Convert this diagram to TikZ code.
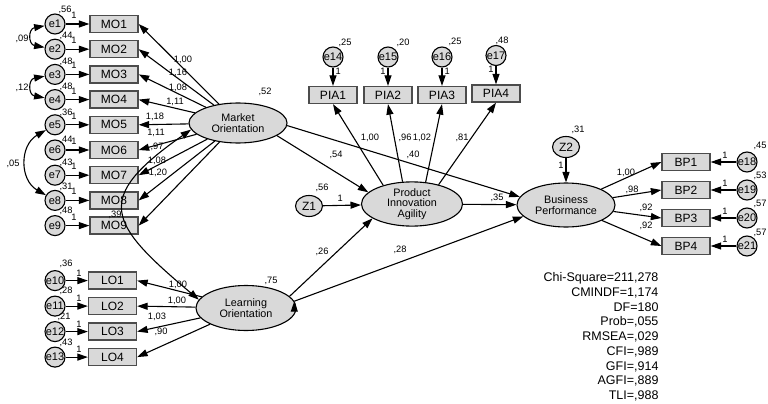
\documentclass[tikz,border=0pt]{standalone}
\usepackage{fontspec}
\setmainfont{Liberation Sans}
\usetikzlibrary{positioning, arrows.meta, shapes.geometric}
\definecolor{boxfill}{gray}{0.85}
\definecolor{boxline}{gray}{0.3}
\tikzset{->,  % every connector is directed
>={Triangle[length=10.5pt,width=7pt]}, % solid heads as in AMOS
node distance=25.2pt, % spacing of the indicator boxes
obs/.style={rectangle, draw=boxline, line width=1.3pt, fill=boxfill, minimum width=48pt, minimum height=17pt, inner sep=0pt, font=\fontsize{12}{12}\selectfont},
lat/.style={ellipse, draw, fill=boxfill, inner sep=0pt, align=center, font=\fontsize{10.8}{10.6}\selectfont},
err/.style={circle, draw, fill=boxfill, inner sep=0pt, minimum size=20pt, font=\fontsize{11}{11}\selectfont},
dist/.style={ellipse, draw, fill=boxfill, inner sep=0pt, minimum width=27pt, minimum height=21pt, font=\fontsize{12}{12}\selectfont},
est/.style={inner sep=0pt, font=\fontsize{9.3}{9.3}\selectfont},
}

\begin{document}
\begin{tikzpicture}[x=1pt, y=-1pt, line width=1.1pt]
  \useasboundingbox (0,0) rectangle (768,404);

  % indicators
  \node[obs] (MO1) at (114,24) {MO1};
  \node[obs, below of=MO1] (MO2) {MO2};
  \node[obs, below of=MO2] (MO3) {MO3};
  \node[obs, below of=MO3] (MO4) {MO4};
  \node[obs, below of=MO4] (MO5) {MO5};
  \node[obs, below of=MO5] (MO6) {MO6};
  \node[obs, below of=MO6] (MO7) {MO7};
  \node[obs, below of=MO7] (MO8) {MO8};
  \node[obs, below of=MO8] (MO9) {MO9};
  \node[obs, below of=MO9, node distance=55pt, xshift=-1.5pt] (LO1) {LO1};
  \node[obs, below of=LO1, node distance=25.5pt] (LO2) {LO2};
  \node[obs, below of=LO2, node distance=25.5pt] (LO3) {LO3};
  \node[obs, below of=LO3, node distance=25.5pt] (LO4) {LO4};
  \node[obs] (PIA1) at (333,95) {PIA1};
  \node[obs, right of=PIA1, node distance=55pt] (PIA2) {PIA2};
  \node[obs, right of=PIA2, node distance=54pt] (PIA3) {PIA3};
  \node[obs, right of=PIA3, node distance=54pt, yshift=1.5pt] (PIA4) {PIA4};
  \node[obs] (BP1) at (686,162) {BP1};
  \node[obs, below of=BP1, node distance=28pt] (BP2) {BP2};
  \node[obs, below of=BP2, node distance=28pt] (BP3) {BP3};
  \node[obs, below of=BP3, node distance=28pt] (BP4) {BP4};

  % error terms
  \node[err, left of=MO1, node distance=59pt] (e1) {e1};
  \node[err, left of=MO2, node distance=59pt] (e2) {e2};
  \node[err, left of=MO3, node distance=59pt] (e3) {e3};
  \node[err, left of=MO4, node distance=59pt] (e4) {e4};
  \node[err, left of=MO5, node distance=59pt] (e5) {e5};
  \node[err, left of=MO6, node distance=59pt] (e6) {e6};
  \node[err, left of=MO7, node distance=59pt] (e7) {e7};
  \node[err, left of=MO8, node distance=59pt] (e8) {e8};
  \node[err, left of=MO9, node distance=59pt] (e9) {e9};
  \node[err, left of=LO1, node distance=57.5pt] (e10) {e10};
  \node[err, left of=LO2, node distance=57.5pt] (e11) {e11};
  \node[err, left of=LO3, node distance=57.5pt] (e12) {e12};
  \node[err, left of=LO4, node distance=57.5pt] (e13) {e13};
  \node[err, above of=PIA1, node distance=38pt] (e14) {e14};
  \node[err, above of=PIA2, node distance=38pt] (e15) {e15};
  \node[err, above of=PIA3, node distance=38pt] (e16) {e16};
  \node[err, above of=PIA4, node distance=38pt] (e17) {e17};
  \node[err, right of=BP1, node distance=61pt] (e18) {e18};
  \node[err, right of=BP2, node distance=61pt] (e19) {e19};
  \node[err, right of=BP3, node distance=61pt] (e20) {e20};
  \node[err, right of=BP4, node distance=61pt] (e21) {e21};

  % latent variables
  \node[lat, minimum width=98pt, minimum height=40pt] (MO) at (238,123) {Market\\Orientation};
  \node[lat, minimum width=100pt, minimum height=45pt] (LO) at (246,308) {Learning\\Orientation};
  \node[lat, minimum width=101pt, minimum height=43pt] (PIA) at (412,204) {Product\\Innovation\\Agility};
  \node[lat, minimum width=98pt, minimum height=44pt] (BP) at (566,205) {Business\\Performance};
  \node[dist, left of=PIA, node distance=103pt, yshift=-2pt] (Z1) {Z1};
  \node[dist, above of=BP, node distance=58pt] (Z2) {Z2};

  \draw (MO) edge (MO1.east) (MO) edge (MO2.east) (MO) edge (MO3.east)
        (MO) edge (MO4.east) (MO) edge (MO5.east) (MO) edge (MO6.east)
        (MO) edge (MO7.east) (MO) edge (MO8.east) (MO) edge (MO9.east)
        (LO) edge (LO1.east) (LO) edge (LO2.east) (LO) edge (LO3.east) (LO) edge (LO4.east)
        (PIA.147) edge (PIA1.south) (PIA.113) edge (PIA2.south)
        (PIA.58) edge (PIA3.south) (PIA.36) edge (PIA4.south)
        (BP) edge (BP1.west) (BP) edge (BP2.west) (BP) edge (BP3.west) (BP) edge (BP4.west)
        (MO.-18) edge (PIA.165) (MO.-3) edge (BP.170)
        (LO.15) edge (PIA.200) (LO.8) edge (BP.195)
        (PIA) edge (BP);

  \draw (e1) edge node[est, above=5pt, pos=.35] (o1) {1} (MO1)
        (e2) edge node[est, above=5pt, pos=.35] (o2) {1} (MO2)
        (e3) edge node[est, above=5pt, pos=.35] (o3) {1} (MO3)
        (e4) edge node[est, above=5pt, pos=.35] (o4) {1} (MO4)
        (e5) edge node[est, above=5pt, pos=.35] (o5) {1} (MO5)
        (e6) edge node[est, above=5pt, pos=.35] (o6) {1} (MO6)
        (e7) edge node[est, above=5pt, pos=.35] (o7) {1} (MO7)
        (e8) edge node[est, above=5pt, pos=.35] (o8) {1} (MO8)
        (e9) edge node[est, above=5pt, pos=.35] (o9) {1} (MO9)
        (e10) edge node[est, above=4pt, pos=.6] (o10) {1} (LO1)
        (e11) edge node[est, above=4pt, pos=.6] (o11) {1} (LO2)
        (e12) edge node[est, above=4pt, pos=.6] (o12) {1} (LO3)
        (e13) edge node[est, above=4pt, pos=.6] (o13) {1} (LO4)
        (e14) edge node[est, right=2pt, pos=.2] (o14) {1} (PIA1)
        (e15) edge node[est, left=2pt, pos=.2] (o15) {1} (PIA2)
        (e16) edge node[est, right=2pt, pos=.2] (o16) {1} (PIA3)
        (e17) edge node[est, left=2pt, pos=.2] (o17) {1} (PIA4)
        (e18) edge node[est, above=3pt, pos=.45] (o18) {1} (BP1)
        (e19) edge node[est, above=3pt, pos=.45] (o19) {1} (BP2)
        (e20) edge node[est, above=3pt, pos=.45] (o20) {1} (BP3)
        (e21) edge node[est, above=3pt, pos=.45] (o21) {1} (BP4)
        (Z1) edge node[est, above=3pt, pos=.45] (oz1) {1} (PIA)
        (Z2) edge node[est, left=2pt, pos=.3] (oz2) {1} (BP);

  % covariances
  \draw[<->] (e1) to[out=190, in=170, looseness=2] (e2);
  \draw[<->] (e3) to[out=190, in=170, looseness=2] (e4);
  \draw[<->] (e5) to[out=210, in=150, looseness=1.2] (e8);
  \draw[<->] (MO.188) to[out=215, in=140, looseness=1.8] (LO.170);

  % estimates
  \node[est] (v1) at (65,10) {,56};   \node[est] (v2) at (66,36) {,44};
  \node[est] (v3) at (66,62) {,48};   \node[est] (v4) at (66,87) {,48};
  \node[est] (v5) at (66,113) {,36};  \node[est] (v6) at (66,140) {,44};
  \node[est] (v7) at (66,163) {,43};  \node[est] (v8) at (66,187) {,31};
  \node[est] (v9) at (66,211) {,48};  \node[est] (v10) at (66,264) {,36};
  \node[est] (v11) at (66,291) {,28}; \node[est] (v12) at (64,317) {,21};
  \node[est] (v13) at (66,343) {,43}; \node[est] (v14) at (345,43) {,25};
  \node[est] (v15) at (403,43) {,20}; \node[est] (v16) at (455,42) {,25};
  \node[est] (v17) at (502,41) {,48}; \node[est] (v18) at (760,146) {,45};
  \node[est] (v19) at (760,176) {,53}; \node[est] (v20) at (760,204) {,57};
  \node[est] (v21) at (760,233) {,57}; \node[est] (vz1) at (322,188) {,56};
  \node[est] (vz2) at (578,130) {,31}; \node[est] (vmo) at (265,92) {,52};
  \node[est] (vlo) at (271,281) {,75};
  \node[est] (c1) at (22,39) {,09};   \node[est] (c2) at (22,88) {,12};
  \node[est] (c3) at (13,164) {,05};  \node[est] (c4) at (115,215) {,39};
  \node[est] (m1) at (183,60) {1,00}; \node[est] (m2) at (178,73) {1,16};
  \node[est] (m3) at (178,88) {1,08}; \node[est] (m4) at (175,102) {1,11};
  \node[est] (m5) at (155,117) {1,18}; \node[est] (m6) at (156,133) {1,11};
  \node[est] (m7) at (157,147) {,97}; \node[est] (m8) at (157,161) {1,08};
  \node[est] (m9) at (158,173) {1,20};
  \node[est] (l1) at (178,285) {1,00}; \node[est] (l2) at (177,301) {1,00};
  \node[est] (l3) at (157,317) {1,03}; \node[est] (l4) at (161,332) {,90};
  \node[est] (p1) at (370,138) {1,00}; \node[est] (p2) at (405,138) {,96};
  \node[est] (p3) at (422,138) {1,02}; \node[est] (p4) at (462,138) {,81};
  \node[est] (b1) at (626,173) {1,00}; \node[est] (b2) at (632,190) {,98};
  \node[est] (b3) at (646,208) {,92}; \node[est] (b4) at (646,226) {,92};
  \node[est] (s1) at (336,155) {,54}; \node[est] (s2) at (413,155) {,40};
  \node[est] (s3) at (322,252) {,26}; \node[est] (s4) at (400,250) {,28};
  \node[est] (s5) at (497,198) {,35};

  % fit indices
  \node[anchor=north east, inner sep=0pt, align=right, font=\fontsize{12.5}{14.75}\selectfont] (fit) at (659,272)
    {Chi-Square=211,278\\CMINDF=1,174\\DF=180\\Prob=,055\\RMSEA=,029\\CFI=,989\\GFI=,914\\AGFI=,889\\TLI=,988};
\end{tikzpicture}
\end{document}
